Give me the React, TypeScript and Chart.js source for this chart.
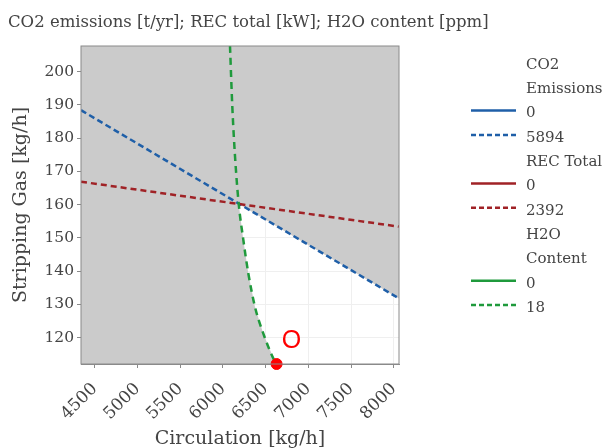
import { useEffect, useRef } from 'react';
import { Chart, registerables } from 'chart.js';

Chart.register(...registerables);

const SERIF = "'DejaVu Serif', serif";
const TEXT = '#444444';

// axis ranges and ticks
const xRange = [4340, 8060];
const yRange = [112.1, 207.7];
const xTicks = [4500, 5000, 5500, 6000, 6500, 7000, 7500, 8000];
const yTicks = [120, 130, 140, 150, 160, 170, 180, 190, 200];

const chartTitle = 'CO2 emissions [t/yr]; REC total [kW]; H2O content [ppm]';
const xTitle = 'Circulation [kg/h]';
const yTitle = 'Stripping Gas [kg/h]';

// contour lines (iso-lines)
const co2X = [4340, 8060];
const co2Y = [188.4, 131.8];
const recX = [4340, 8060];
const recY = [166.9, 153.4];
const h2oX = [6083, 6110, 6142, 6185, 6239, 6297, 6375, 6472, 6609, 6628];
const h2oY = [207.7, 189.5, 174.4, 160.2, 149.4, 139.4, 129.3, 121.3, 112.8, 112.1];
const intersectIndex = 3;

// optimum
const optimumX = [6628];
const optimumY = [112.1];
const optimumLabel = 'O';

// legend
const co2Title = ['CO2', 'Emissions'];
const co2Levels = ['0', '5894'];
const recTitle = ['REC Total'];
const recLevels = ['0', '2392'];
const h2oTitle = ['H2O', 'Content'];
const h2oLevels = ['0', '18'];

const BLUE = '#1f5fa8';
const RED = '#a02226';
const GREEN = '#1f9a3c';

const toPts = (xs: number[], ys: number[]) => xs.map((x, i) => ({ x, y: ys[i] }));

// infeasible region: everything except the area below CO2 line and right of H2O curve
const grayPolygon = [
  { x: xRange[0], y: yRange[0] },
  { x: xRange[0], y: yRange[1] },
  { x: xRange[1], y: yRange[1] },
  { x: co2X[1], y: co2Y[1] },
  ...toPts(h2oX, h2oY).slice(intersectIndex),
  { x: xRange[0], y: yRange[0] },
];

const legendGroups = [
  { title: co2Title, levels: co2Levels, color: BLUE },
  { title: recTitle, levels: recLevels, color: RED },
  { title: h2oTitle, levels: h2oLevels, color: GREEN },
];

const framePlugin = {
  id: 'frame',
  afterDraw(chart: any) {
    const { ctx, chartArea: a } = chart;
    ctx.save();
    ctx.strokeStyle = '#8a8a8a';
    ctx.lineWidth = 1;
    ctx.strokeRect(a.left, a.top, a.right - a.left, a.bottom - a.top);
    ctx.restore();
  },
};

const titlePlugin = {
  id: 'plainTitle',
  afterDraw(chart: any) {
    const { ctx } = chart;
    ctx.save();
    ctx.fillStyle = TEXT;
    ctx.font = `16.5px ${SERIF}`;
    ctx.textAlign = 'left';
    ctx.textBaseline = 'middle';
    ctx.fillText(chartTitle, 8, 23);
    ctx.restore();
  },
};

const labelPlugin = {
  id: 'optLabel',
  afterDraw(chart: any) {
    const { ctx, scales } = chart;
    const px = scales.x.getPixelForValue(optimumX[0]);
    const py = scales.y.getPixelForValue(optimumY[0]);
    ctx.save();
    ctx.fillStyle = '#ff0000';
    ctx.font = "25px 'Liberation Sans', sans-serif";
    ctx.textAlign = 'center';
    ctx.textBaseline = 'middle';
    ctx.fillText(optimumLabel, px + 15, py - 23);
    ctx.restore();
  },
};

const legendPlugin = {
  id: 'customLegend',
  afterDraw(chart: any) {
    const { ctx } = chart;
    const step = 24.3;
    let y = 65;
    const lineX0 = 471;
    const lineX1 = 516;
    const textX = 526;
    ctx.save();
    ctx.font = `15px ${SERIF}`;
    ctx.textBaseline = 'middle';
    ctx.textAlign = 'left';
    legendGroups.forEach((g) => {
      g.title.forEach((t) => {
        ctx.fillStyle = TEXT;
        ctx.fillText(t, textX, y);
        y += step;
      });
      g.levels.forEach((lv, i) => {
        ctx.strokeStyle = g.color;
        ctx.lineWidth = 2.5;
        ctx.setLineDash(i === 0 ? [] : [5, 3]);
        ctx.beginPath();
        ctx.moveTo(lineX0, y - 3);
        ctx.lineTo(lineX1, y - 3);
        ctx.stroke();
        ctx.setLineDash([]);
        ctx.fillStyle = TEXT;
        ctx.fillText(lv, textX, y);
        y += step;
      });
    });
    ctx.restore();
  },
};

export default function App() {
  const ref = useRef<HTMLCanvasElement>(null);
  useEffect(() => {
    const canvas = ref.current;
    if (!canvas) return;
    const chart = new Chart(canvas, {
      type: 'scatter',
      data: {
        datasets: [
          {
            label: 'infeasible',
            data: grayPolygon,
            showLine: true,
            fill: 'shape',
            backgroundColor: '#cbcbcb',
            borderWidth: 0,
            borderColor: 'rgba(0,0,0,0)',
            pointRadius: 0,
            order: 10,
          } as any,
          {
            label: 'CO2 Emissions 5894',
            data: toPts(co2X, co2Y),
            showLine: true,
            borderColor: BLUE,
            borderWidth: 2.5,
            borderDash: [6, 3.5],
            pointRadius: 0,
            order: 5,
          },
          {
            label: 'REC Total 2392',
            data: toPts(recX, recY),
            showLine: true,
            borderColor: RED,
            borderWidth: 2.5,
            borderDash: [6, 4],
            pointRadius: 0,
            order: 4,
          },
          {
            label: 'H2O Content 18',
            data: toPts(h2oX, h2oY),
            showLine: true,
            borderColor: GREEN,
            borderWidth: 2.5,
            borderDash: [7, 5],
            cubicInterpolationMode: 'monotone',
            pointRadius: 0,
            order: 3,
          } as any,
          {
            label: 'Optimum',
            data: toPts(optimumX, optimumY),
            backgroundColor: '#ff0000',
            borderColor: '#ff0000',
            pointRadius: 5.5,
            clip: false,
            order: 0,
          } as any,
        ],
      },
      options: {
        responsive: false,
        animation: false,
        layout: { padding: { left: 8, right: 210, top: 46, bottom: 0 } },
        plugins: {
          legend: { display: false },
          tooltip: { enabled: false },
          title: { display: false },
        },
        scales: {
          x: {
            type: 'linear',
            min: xRange[0],
            max: xRange[1],
            afterBuildTicks: (s: any) => {
              s.ticks = xTicks.map((v) => ({ value: v }));
            },
            afterFit: (s: any) => {
              s.height = 84;
            },
            ticks: {
              autoSkip: false,
              minRotation: 45,
              maxRotation: 45,
              color: TEXT,
              font: { family: SERIF, size: 17 },
              padding: 11,
              callback: (v: any) => String(v),
            },
            grid: { color: '#efefef', tickColor: '#8a8a8a', tickLength: 4 },
            border: { color: '#8a8a8a' },
            title: {
              display: true,
              text: xTitle,
              color: TEXT,
              font: { family: SERIF, size: 19, lineHeight: 0.9 },
              padding: { top: 0, bottom: 0 },
            },
          },
          y: {
            type: 'linear',
            min: yRange[0],
            max: yRange[1],
            afterBuildTicks: (s: any) => {
              s.ticks = yTicks.map((v) => ({ value: v }));
            },
            afterFit: (s: any) => {
              s.width = 73;
            },
            ticks: {
              autoSkip: false,
              color: TEXT,
              font: { family: SERIF, size: 15.5 },
              padding: 3,
            },
            grid: { color: '#efefef', tickColor: '#8a8a8a', tickLength: 4 },
            border: { color: '#8a8a8a' },
            title: {
              display: true,
              text: yTitle,
              color: TEXT,
              font: { family: SERIF, size: 19 },
              padding: { top: 2, bottom: 0 },
            },
          },
        },
      } as any,
      plugins: [framePlugin, titlePlugin, labelPlugin, legendPlugin],
    });
    return () => chart.destroy();
  }, []);
  return (
    <div style={{ position: 'absolute', left: 0, top: 0, width: 609, height: 448, background: '#ffffff' }}>
      <canvas ref={ref} width={609} height={448} style={{ width: 609, height: 448, display: 'block' }} />
    </div>
  );
}
